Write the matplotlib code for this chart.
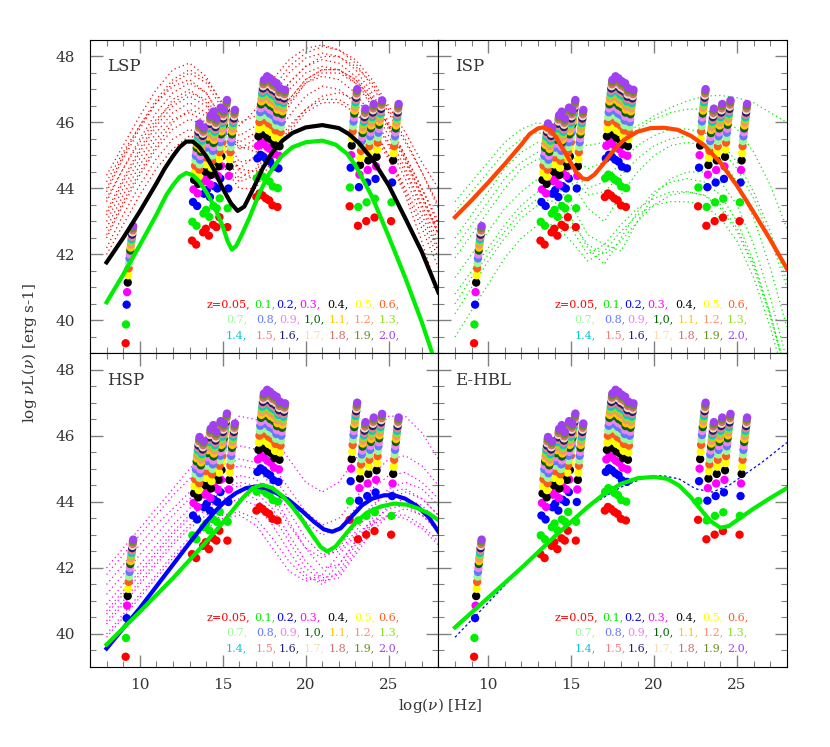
import numpy as np
import matplotlib
matplotlib.use("Agg")
import matplotlib.pyplot as plt
from matplotlib.ticker import MultipleLocator

plt.rcParams['font.family'] = ['DejaVu Serif']
plt.rcParams['mathtext.fontset'] = 'dejavuserif'

# redshift legend: label, colour, and shift of each flux-limit point (relative to z=0.05)
z_labels = ["z=0.05,", "0.1,", "0.2,", "0.3,", "0.4,", "0.5,", "0.6,",
            "0.7,", "0.8,", "0.9,", "1,0,", "1.1,", "1.2,", "1.3,",
            "1.4,", "1.5,", "1.6,", "1.7,", "1.8,", "1.9,", "2.0,"]
z_colors = ["#ff0000", "#00ee00", "#0000ff", "#ff00ff", "#000000", "#ffff00", "#ff5a1e",
            "#98fb98", "#6478ff", "#ee82ee", "#006400", "#ffc800", "#ff9070", "#90e020",
            "#00c8d8", "#f08080", "#1e1e78", "#f5deb3", "#d07070", "#6b8e23", "#a040f0"]
z_dx = [0.0, 0.02, 0.06, 0.09, 0.125, 0.155, 0.183, 0.209, 0.234, 0.258, 0.28,
        0.301, 0.321, 0.341, 0.359, 0.377, 0.394, 0.41, 0.426, 0.441, 0.456]
z_dy = [0.0, 0.57, 1.17, 1.55, 1.84, 2.06, 2.27, 2.43, 2.57, 2.69, 2.81,
        2.90, 2.99, 3.07, 3.15, 3.22, 3.29, 3.36, 3.42, 3.49, 3.55]

# survey bands: log(nu) and log(nuL) of the z=0.05 point
band_x = [9.15, 13.15, 13.40, 13.82, 13.98, 14.17, 14.42, 14.62, 14.80, 15.28,
          17.03, 17.22, 17.40, 17.60, 17.80, 18.00, 18.30,
          22.65, 23.15, 23.65, 24.15, 25.15]
band_y = [39.31, 42.42, 42.30, 42.67, 42.78, 42.57, 42.90, 42.83, 43.13, 42.83,
          43.74, 43.85, 43.79, 43.70, 43.64, 43.49, 43.44,
          43.46, 42.87, 43.01, 43.12, 43.01]

# legend token positions (log nu) for the three rows
leg_x1 = [14.03, 16.9, 18.2, 19.6, 21.3, 22.9, 24.4]
leg_x2 = [15.2, 17.0, 18.4, 19.9, 21.4, 22.9, 24.4]
leg_y = [40.50, 40.04, 39.56]

# thick template curves
lsp_black_x = [8.0, 9.0, 10.0, 11.0, 11.5, 12.0, 12.4, 12.8, 13.2, 13.6, 14.0, 14.5, 15.0, 15.5,
               15.9, 16.3, 16.8, 17.4, 18.0, 18.6, 19.2, 20.0, 21.0, 22.0, 22.6, 23.2, 24.0, 25.0,
               26.0, 27.0, 28.0]
lsp_black_y = [41.76, 42.50, 43.30, 44.15, 44.60, 44.98, 45.25, 45.42, 45.42, 45.25, 44.98, 44.55,
               44.00, 43.55, 43.32, 43.45, 43.95, 44.60, 45.10, 45.45, 45.68, 45.85, 45.92, 45.83,
               45.65, 45.38, 44.90, 44.10, 43.10, 42.08, 40.85]
lsp_green_x = [8.0, 9.0, 10.0, 11.0, 11.6, 12.0, 12.4, 12.8, 13.2, 13.6, 14.0, 14.5, 15.0, 15.3,
               15.55, 15.8, 16.1, 16.6, 17.2, 17.8, 18.5, 19.2, 20.0, 21.0, 21.8, 22.5, 23.0, 24.0,
               25.0, 26.0, 27.0, 27.5, 28.0]
lsp_green_y = [40.55, 41.39, 42.28, 43.20, 43.80, 44.10, 44.35, 44.47, 44.40, 44.20, 43.90, 43.45,
               42.85, 42.40, 42.15, 42.25, 42.55, 43.10, 43.85, 44.45, 44.95, 45.25, 45.40, 45.45,
               45.33, 45.05, 44.70, 43.75, 42.55, 41.30, 39.95, 39.20, 38.40]
isp_orange_x = [8.0, 9.0, 10.0, 11.0, 12.0, 12.5, 13.0, 13.3, 13.7, 14.1, 14.5, 14.9, 15.3, 15.7,
                16.0, 16.4, 16.9, 17.5, 18.2, 19.0, 19.8, 20.6, 21.4, 22.2, 23.0, 24.0, 25.0, 26.0,
                27.0, 28.0]
isp_orange_y = [43.13, 43.64, 44.18, 44.74, 45.33, 45.65, 45.82, 45.85, 45.78, 45.55, 45.20, 44.85,
                44.50, 44.30, 44.28, 44.42, 44.72, 45.12, 45.48, 45.72, 45.83, 45.84, 45.78, 45.60,
                45.32, 44.78, 44.08, 43.28, 42.45, 41.57]
hsp_blue_x = [8.0, 9.0, 10.0, 11.0, 12.0, 13.0, 14.0, 14.6, 15.2, 15.8, 16.4, 17.0, 17.6, 18.2,
              19.0, 19.8, 20.5, 21.1, 21.6, 22.1, 22.7, 23.4, 24.0, 24.7, 25.3, 26.0, 26.7, 27.4, 28.0]
hsp_blue_y = [39.56, 40.17, 40.78, 41.44, 42.10, 42.76, 43.40, 43.75, 44.05, 44.27, 44.42, 44.47,
              44.42, 44.28, 44.05, 43.72, 43.40, 43.17, 43.10, 43.20, 43.52, 43.90, 44.10, 44.20,
              44.21, 44.10, 43.88, 43.55, 43.10]
hsp_green_x = [8.0, 10.0, 12.0, 14.0, 15.0, 15.6, 16.2, 16.8, 17.4, 18.0, 18.6, 19.2, 19.8, 20.4,
               20.9, 21.3, 21.8, 22.4, 23.0, 23.7, 24.5, 25.3, 26.1, 26.8, 27.4, 28.0]
hsp_green_y = [39.68, 40.67, 41.69, 42.79, 43.37, 43.75, 44.12, 44.42, 44.52, 44.42, 44.18, 43.85,
               43.45, 43.00, 42.64, 42.50, 42.65, 43.02, 43.38, 43.68, 43.86, 43.95, 43.92, 43.80,
               43.66, 43.45]
ehbl_green_x = [8.0, 10.0, 12.0, 14.0, 16.0, 17.0, 18.0, 19.0, 20.0, 20.8, 21.5, 22.2, 22.8, 23.4,
                24.0, 24.5, 25.2, 26.0, 27.0, 28.0]
ehbl_green_y = [40.20, 41.10, 42.00, 42.95, 43.85, 44.25, 44.55, 44.72, 44.76, 44.70, 44.50, 44.15,
                43.78, 43.42, 43.22, 43.27, 43.52, 43.80, 44.12, 44.42]
ehbl_blue_x = [8.0, 10.0, 12.0, 14.0, 16.0, 18.0, 19.5, 20.5, 21.5, 22.5, 23.5, 24.5, 25.5, 26.5, 27.5, 28.0]
ehbl_blue_y = [39.9, 40.95, 42.0, 43.0, 43.85, 44.45, 44.75, 44.8, 44.7, 44.4, 44.3, 44.5, 44.85, 45.2, 45.6, 45.8]

# thin dotted curves of individual sources, sampled at integer log(nu)
dot_x = list(range(8, 29))
lsp_dotted = [
    [44.4, 45.3, 46.2, 47.0, 47.6, 47.8, 47.4, 46.5, 45.9, 46.4, 47.3, 47.9, 48.25, 48.35, 48.2, 47.8, 47.1, 46.3, 45.4, 44.5, 43.5],
    [43.9, 44.9, 45.8, 46.6, 47.2, 47.5, 47.2, 46.4, 45.6, 45.9, 46.8, 47.5, 47.95, 48.1, 48.0, 47.6, 46.9, 46.0, 45.0, 44.0, 43.0],
    [43.6, 44.6, 45.5, 46.3, 46.9, 47.2, 46.9, 46.1, 45.2, 45.3, 46.2, 47.0, 47.5, 47.7, 47.6, 47.2, 46.5, 45.6, 44.6, 43.5, 42.4],
    [43.3, 44.3, 45.2, 46.0, 46.7, 47.0, 46.6, 45.7, 44.8, 44.9, 45.8, 46.6, 47.2, 47.4, 47.3, 46.9, 46.2, 45.3, 44.3, 43.2, 42.1],
    [43.0, 44.0, 44.9, 45.7, 46.3, 46.6, 46.3, 45.5, 44.6, 44.5, 45.4, 46.2, 46.8, 47.1, 47.0, 46.6, 45.9, 45.0, 43.9, 42.8, 41.6],
    [42.8, 43.8, 44.7, 45.5, 46.1, 46.3, 46.0, 45.1, 44.3, 44.6, 45.6, 46.5, 47.2, 47.5, 47.5, 47.2, 46.6, 45.8, 44.8, 43.7, 42.6],
    [42.2, 43.2, 44.1, 44.9, 45.5, 45.8, 45.5, 44.8, 44.2, 44.4, 45.2, 45.9, 46.4, 46.7, 46.7, 46.4, 45.8, 45.0, 44.0, 43.0, 41.9],
    [42.0, 42.9, 43.8, 44.6, 45.2, 45.6, 45.4, 44.7, 44.0, 44.0, 44.9, 45.7, 46.3, 46.6, 46.6, 46.3, 45.7, 44.9, 43.8, 42.4, 40.8],
    [43.7, 44.6, 45.4, 46.1, 46.6, 46.9, 46.7, 46.0, 45.4, 45.7, 46.5, 47.2, 47.7, 48.0, 48.0, 47.7, 47.2, 46.4, 45.5, 44.5, 43.4],
    [44.2, 45.1, 45.9, 46.6, 47.1, 47.3, 46.9, 46.1, 45.3, 45.1, 45.9, 46.7, 47.3, 47.6, 47.6, 47.3, 46.7, 45.9, 45.0, 44.0, 42.9],
    [42.5, 43.5, 44.4, 45.2, 45.8, 46.1, 45.9, 45.2, 44.6, 45.0, 45.9, 46.7, 47.3, 47.6, 47.6, 47.3, 46.7, 45.9, 44.9, 43.8, 42.6],
    [43.2, 44.2, 45.1, 45.9, 46.5, 46.8, 46.5, 45.8, 45.2, 45.5, 46.4, 47.2, 47.7, 47.9, 47.8, 47.4, 46.8, 45.9, 44.9, 43.8, 42.7],
    [42.6, 43.6, 44.5, 45.3, 46.0, 46.4, 46.2, 45.4, 44.5, 44.3, 45.0, 45.8, 46.4, 46.8, 46.9, 46.7, 46.2, 45.4, 44.5, 43.4, 42.2],
    [44.0, 45.0, 45.9, 46.7, 47.3, 47.6, 47.3, 46.6, 46.0, 46.2, 47.0, 47.7, 48.1, 48.3, 48.2, 47.9, 47.3, 46.5, 45.7, 44.8, 44.0],
]
isp_dotted = [
    [43.6, 44.2, 44.8, 45.4, 45.8, 46.0, 45.8, 45.4, 45.3, 45.4, 45.6, 45.9, 46.2, 46.45, 46.65, 46.8, 46.82, 46.75, 46.6, 46.3, 46.0],
    [43.3, 43.9, 44.5, 45.1, 45.5, 45.7, 45.5, 45.0, 44.6, 44.8, 45.3, 45.8, 46.1, 46.3, 46.4, 46.4, 46.2, 45.8, 45.1, 44.1, 42.8],
    [42.5, 43.2, 43.9, 44.6, 45.1, 45.4, 45.2, 44.6, 44.0, 44.2, 44.8, 45.3, 45.6, 45.8, 45.8, 45.7, 45.4, 44.8, 43.9, 42.7, 41.2],
    [41.9, 42.6, 43.3, 44.0, 44.6, 44.9, 44.8, 44.2, 43.4, 43.0, 43.8, 44.5, 45.0, 45.3, 45.4, 45.3, 44.9, 44.2, 43.1, 41.6, 39.8],
    [41.3, 42.0, 42.7, 43.4, 43.9, 44.3, 44.2, 43.5, 42.6, 42.3, 42.1, 43.0, 43.8, 44.3, 44.5, 44.5, 44.2, 43.5, 42.3, 40.7, 38.8],
    [40.8, 41.5, 42.2, 42.9, 43.5, 43.9, 43.8, 43.1, 42.2, 41.7, 42.5, 43.3, 43.9, 44.2, 44.3, 44.2, 43.8, 43.0, 41.8, 40.2, 38.3],
    [40.2, 41.0, 41.8, 42.5, 43.1, 43.5, 43.4, 42.8, 42.0, 42.3, 42.9, 43.4, 43.7, 43.9, 43.9, 43.8, 43.4, 42.7, 41.6, 40.1, 38.3],
    [39.5, 40.3, 41.1, 41.9, 42.5, 42.9, 42.9, 42.4, 41.8, 42.1, 42.7, 43.2, 43.5, 43.6, 43.6, 43.5, 43.1, 42.4, 41.3, 39.8, 38.0],
    [42.2, 42.9, 43.6, 44.3, 44.8, 45.1, 45.0, 44.4, 43.8, 43.9, 44.4, 44.9, 45.3, 45.5, 45.6, 45.5, 45.2, 44.6, 43.7, 42.5, 41.0],
    [40.5, 41.3, 42.0, 42.7, 43.3, 43.7, 43.6, 43.0, 42.3, 42.0, 42.4, 43.0, 43.5, 43.8, 43.9, 43.8, 43.5, 42.8, 41.7, 40.2, 38.4],
]
hsp_dotted = [
    [42.0, 42.6, 43.2, 43.8, 44.4, 45.0, 45.6, 46.2, 46.6, 46.5, 46.0, 45.3, 44.6, 44.3, 44.6, 45.3, 46.0, 46.6, 46.6, 46.1, 45.3],
    [41.2, 41.8, 42.4, 43.0, 43.6, 44.1, 44.5, 44.9, 45.1, 45.0, 44.5, 43.7, 42.9, 42.4, 42.5, 43.1, 43.8, 44.4, 44.6, 44.4, 43.9],
    [40.9, 41.5, 42.1, 42.7, 43.3, 43.8, 44.3, 44.6, 44.8, 44.7, 44.2, 43.4, 42.6, 42.0, 42.1, 42.8, 43.5, 44.1, 44.3, 44.1, 43.6],
    [40.6, 41.2, 41.8, 42.4, 43.0, 43.5, 44.0, 44.3, 44.5, 44.3, 43.8, 43.0, 42.2, 41.7, 41.8, 42.5, 43.3, 43.9, 44.1, 43.9, 43.4],
    [40.3, 40.9, 41.5, 42.1, 42.7, 43.2, 43.6, 43.9, 44.1, 43.9, 43.3, 42.5, 41.8, 41.5, 41.9, 42.7, 43.4, 43.8, 43.9, 43.6, 43.1],
    [40.0, 40.6, 41.2, 41.8, 42.4, 42.9, 43.3, 43.6, 43.7, 43.5, 42.9, 42.2, 41.7, 41.6, 42.1, 42.8, 43.3, 43.6, 43.6, 43.3, 42.8],
    [40.7, 41.3, 41.9, 42.5, 43.1, 43.6, 44.0, 44.4, 44.6, 44.5, 44.0, 43.3, 42.6, 42.3, 42.6, 43.3, 43.9, 44.3, 44.4, 44.1, 43.6],
    [41.5, 42.1, 42.7, 43.3, 43.8, 44.3, 44.7, 45.1, 45.3, 45.2, 44.8, 44.1, 43.4, 43.0, 43.2, 43.8, 44.4, 44.8, 44.9, 44.6, 44.1],
    [41.8, 42.4, 43.0, 43.6, 44.2, 44.7, 45.2, 45.5, 45.7, 45.6, 45.1, 44.4, 43.7, 43.3, 43.5, 44.1, 44.8, 45.3, 45.4, 45.1, 44.5],
    [40.4, 41.0, 41.6, 42.2, 42.8, 43.3, 43.8, 44.1, 44.3, 44.1, 43.6, 42.8, 42.0, 41.6, 41.7, 42.4, 43.1, 43.6, 43.8, 43.6, 43.2],
    [39.9, 40.5, 41.1, 41.7, 42.3, 42.8, 43.2, 43.5, 43.6, 43.3, 42.6, 41.9, 41.6, 41.8, 42.4, 43.0, 43.4, 43.6, 43.5, 43.2, 42.7],
]

fig, axes = plt.subplots(2, 2, figsize=(8.3, 7.47), dpi=100, sharex=True, sharey=True)
fig.subplots_adjust(left=0.1084, right=0.948, top=0.9465, bottom=0.1071, wspace=0, hspace=0)

panels = [
    (axes[0, 0], "LSP", lsp_dotted, "#ff0000",
     [(lsp_black_x, lsp_black_y, "black"), (lsp_green_x, lsp_green_y, "#00ee00")]),
    (axes[0, 1], "ISP", isp_dotted, "#00ee00",
     [(isp_orange_x, isp_orange_y, "#ff4500")]),
    (axes[1, 0], "HSP", hsp_dotted, "#ff00ff",
     [(hsp_blue_x, hsp_blue_y, "#0000ff"), (hsp_green_x, hsp_green_y, "#00ee00")]),
    (axes[1, 1], "E-HBL", [], "#0000ff",
     [(ehbl_green_x, ehbl_green_y, "#00ee00")]),
]

for ax, name, dotted, dcol, thick in panels:
    for yy in dotted:
        ax.plot(dot_x, yy, color=dcol, lw=0.9, ls=(0, (1, 2.5)), zorder=1)
    if name == "E-HBL":
        ax.plot(ehbl_blue_x, ehbl_blue_y, color="#0000ff", lw=0.9, ls=(0, (2, 2)), zorder=1)

    # flux limits moved to each redshift
    for k in range(len(z_labels)):
        xs = np.array(band_x) + z_dx[k]
        ys = np.array(band_y) + z_dy[k]
        ax.scatter(xs, ys, s=36, color=z_colors[k], edgecolors='none', zorder=2)

    for xx, yy, col in thick:
        ax.plot(xx, yy, color=col, lw=3.0, zorder=3, solid_joinstyle='round')

    ax.text(8.0, 47.43, name, fontsize=12, color="#333333", ha='left', va='bottom')

    for k in range(7):
        ax.text(leg_x1[k], leg_y[0], z_labels[k], color=z_colors[k], fontsize=8, va='center', ha='left')
        ax.text(leg_x2[k], leg_y[1], z_labels[7 + k], color=z_colors[7 + k], fontsize=8, va='center', ha='left')
        ax.text(leg_x2[k], leg_y[2], z_labels[14 + k], color=z_colors[14 + k], fontsize=8, va='center', ha='left')

    ax.set_xlim(7, 28)
    ax.set_ylim(39, 48.5)
    ax.xaxis.set_major_locator(MultipleLocator(5))
    ax.xaxis.set_minor_locator(MultipleLocator(1))
    ax.yaxis.set_major_locator(MultipleLocator(2))
    ax.yaxis.set_minor_locator(MultipleLocator(0.5))
    ax.tick_params(which='both', direction='in', top=True, right=True, color='0.5',
                   labelsize=11, labelcolor='#333333')
    ax.tick_params(axis='x', pad=8)
    ax.tick_params(axis='y', pad=11)
    ax.tick_params(which='major', length=9, width=1)
    ax.tick_params(which='minor', length=4.5, width=0.8)
    for sp in ax.spines.values():
        sp.set_linewidth(0.8)

fig.text(0.036, 0.527, r"log $\nu$L($\nu$) [erg s-1]", rotation=90, fontsize=11,
         color="#333333", ha='center', va='center')
fig.text(0.53, 0.055, r"log($\nu$) [Hz]", fontsize=11, color="#333333", ha='center', va='center')

fig.savefig("out.png", dpi=100)
